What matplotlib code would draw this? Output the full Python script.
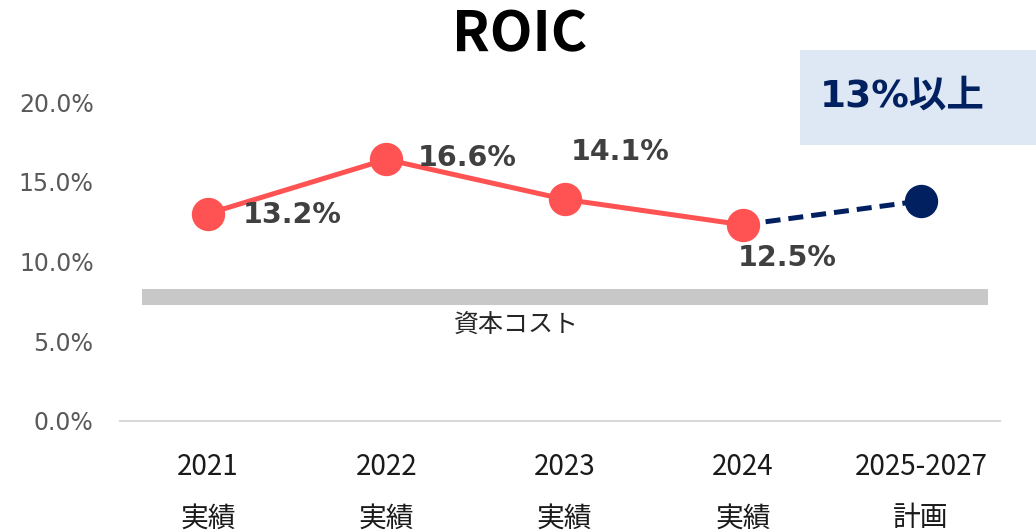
import matplotlib
matplotlib.use('Agg')
import matplotlib.pyplot as plt

# data
categories = ['2021\n実績', '2022\n実績', '2023\n実績', '2024\n実績', '2025-2027\n計画']
actual = [13.0, 16.4, 13.9, 12.3]
plan = 13.8
actual_labels = ['13.2%', '16.6%', '14.1%', '12.5%']
yticks = [0, 5, 10, 15, 20]
cost_low, cost_high = 7.3, 8.3
target_text = '13%以上'

red = '#FF5353'
navy = '#002060'
jp = ['Noto Sans CJK JP', 'DejaVu Sans']

fig = plt.figure(figsize=(10.36, 5.32), dpi=100)
ax = fig.add_axes([120/1036, 111/532, 880/1036, 319/532])

x_act = list(range(len(actual)))
ax.plot(x_act, actual, color=red, lw=3.6, marker='o', ms=23, zorder=3, clip_on=False)
ax.plot([x_act[-1], len(actual)], [actual[-1], plan], color=navy, lw=3.6,
        ls=(0, (3, 1.6)), zorder=2, clip_on=False)
ax.plot([len(actual)], [plan], color=navy, marker='o', ms=23, lw=0, zorder=3, clip_on=False)

# capital cost band
ax.axhspan(cost_low, cost_high, xmin=22/880, xmax=868/880, color='#C8C8C8', lw=0, zorder=1)
ax.text(1.73, cost_low - 1.3, '資本コスト', ha='center', va='center', fontsize=18,
        family=jp, color='#262626')

# data labels (offsets in pixels)
offsets = [(84, -1), (81, 1), (56, 47), (44, -33)]
for i, (v, lab) in enumerate(zip(actual, actual_labels)):
    ax.annotate(lab, (i, v), xytext=offsets[i], textcoords='offset pixels',
                ha='center', va='center', fontsize=20.5, fontweight='bold',
                color='#404040', family='DejaVu Sans')

ax.set_xlim(-0.494, 4.443)
ax.set_ylim(0, 20)
ax.set_yticks(yticks)
ax.set_yticklabels([f'{t:.1f}%' for t in yticks], fontsize=17, color='#595959',
                   family='DejaVu Sans')
ax.set_xticks(range(len(categories)))
ax.set_xticklabels(categories, fontsize=20, family=jp, color='#1a1a1a', linespacing=1.95)
ax.tick_params(axis='y', length=0, pad=19)
ax.tick_params(axis='x', length=0, pad=22)
for s in ['top', 'right', 'left']:
    ax.spines[s].set_visible(False)
ax.spines['bottom'].set_color('#D9D9D9')
ax.spines['bottom'].set_linewidth(1.5)

# title
fig.text(520/1036, 1 - 35/532, 'ROIC', ha='center', va='center', fontsize=40,
         fontweight='bold', family=jp, color='black')

# target box
fig.patches.append(plt.Rectangle((800/1036, 1 - 145/532), 236/1036, 95/532,
                                 transform=fig.transFigure, color='#DDE8F4', lw=0))
fig.text(820/1036, 1 - 97/532, target_text, ha='left', va='center', fontsize=27,
         fontweight='bold', family=['DejaVu Sans', 'Noto Sans CJK JP'], color=navy)

fig.savefig('out.png', dpi=100)
